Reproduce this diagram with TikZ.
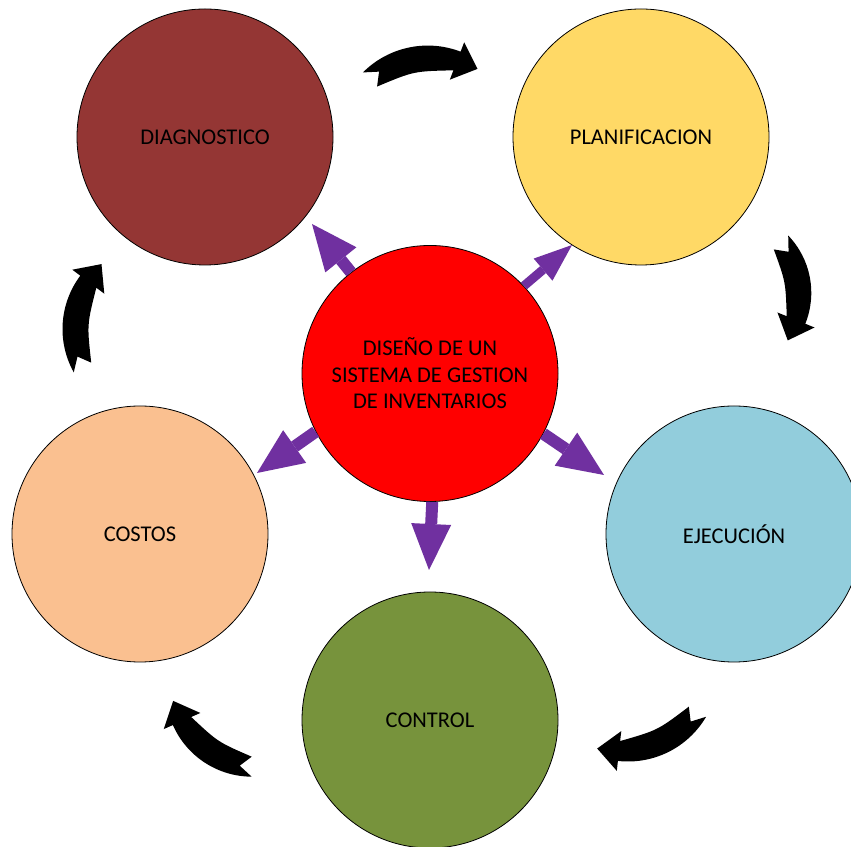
\documentclass[tikz,border=0pt]{standalone}
\usepackage{fontspec}
\setmainfont{Carlito}
\usetikzlibrary{arrows.meta}

\definecolor{diagcol}{HTML}{943634}
\definecolor{plancol}{HTML}{FFD966}
\definecolor{corecol}{HTML}{FF0000}
\definecolor{ejeccol}{HTML}{92CDDC}
\definecolor{ctrlcol}{HTML}{77933C}
\definecolor{costcol}{HTML}{FAC090}
\definecolor{spokecol}{HTML}{7030A0}

% geometry of the black curved arrows between the phases
\def\arcturn{66}     % turning angle of the band
\def\bandend{10}     % half thickness of the band at its ends
\def\bandmid{26}     % full thickness of the band in the middle
\def\headhalf{20}    % half width of the head
\def\headlen{22}     % length of the head
\def\notchdepth{12}  % depth of the swallow-tail notch

% \loopshaft{x0}{y0}{x1}{y1}: clockwise curved arrow, tail centre (x0,y0),
% centre of the head base (x1,y1), bulging away from the cycle centre
\newcommand{\loopshaft}[4]{%
  \pgfmathsetmacro{\ldx}{#3-#1}%
  \pgfmathsetmacro{\ldy}{#4-#2}%
  \pgfmathsetmacro{\llen}{veclen(\ldx,\ldy)}%
  \pgfmathsetmacro{\lang}{atan2(\ldy,\ldx)}%
  \pgfmathsetmacro{\lrad}{\llen/2/sin(\arcturn/2)}%
  \pgfmathsetmacro{\ldist}{\llen/2/tan(\arcturn/2)}%
  \pgfmathsetmacro{\lcx}{(#1+#3)/2+\ldist*cos(\lang-90)}%
  \pgfmathsetmacro{\lcy}{(#2+#4)/2+\ldist*sin(\lang-90)}%
  \pgfmathsetmacro{\lsa}{\lang+90+\arcturn/2}%
  \pgfmathsetmacro{\lea}{\lang+90-\arcturn/2}%
  \pgfmathsetmacro{\lma}{\lang+90}%
  \pgfmathsetmacro{\lna}{\lsa-\notchdepth/\lrad*180/pi}%
  \pgfmathsetmacro{\lout}{\lrad+\bandend}%
  \pgfmathsetmacro{\lin}{\lrad-\bandend}%
  \pgfmathsetmacro{\lbo}{\lrad+\headhalf}%
  \pgfmathsetmacro{\lbi}{\lrad-\headhalf}%
  \pgfmathsetmacro{\lctl}{(4*(\lrad+\bandend-\bandmid)-\lin*cos(\arcturn/2))/3}%
  \pgfmathsetmacro{\ltx}{\lrad*cos(\lea)+\headlen*cos(\lea-90)}%
  \pgfmathsetmacro{\lty}{\lrad*sin(\lea)+\headlen*sin(\lea-90)}%
  \fill[black,shift={(\lcx pt,\lcy pt)}]
    (\lsa:\lout pt) arc[start angle=\lsa, end angle=\lea, radius=\lout pt]
    -- (\lea:\lbo pt) -- (\ltx pt,\lty pt) -- (\lea:\lbi pt) -- (\lea:\lin pt)
    .. controls (\lma:\lctl pt) .. (\lsa:\lin pt)
    -- (\lna:\lrad pt) -- cycle;
}

\tikzset{
  phase/.style={circle, draw=black, line width=0.8pt, minimum size=256pt,
    inner sep=0pt, align=center, text=black,
    font=\fontsize{22.5}{26.5}\selectfont},
  spoke/.style={draw=spokecol, line width=12pt,
    -{Triangle[length=46pt, width=40pt, line width=0pt]}},
  thinspoke/.style={draw=spokecol, line width=9pt,
    -{Triangle[length=38pt, width=29pt, line width=0pt]}},
}

\begin{document}
\begin{tikzpicture}[x=1pt, y=1pt]
\clip (0,0) rectangle (851,846);
\fill[white] (0,0) rectangle (851,846);

% phases of the cycle
\node[phase, fill=diagcol] (diag) at (205,709) {DIAGNOSTICO};
\node[phase, fill=plancol] (plan) at (641,709) {PLANIFICACION};
\node[phase, fill=ejeccol] (ejec) at (734,312) {EJECUCIÓN};
\node[phase, fill=ctrlcol] (ctrl) at (430,126) {CONTROL};
\node[phase, fill=costcol] (cost) at (140,312) {COSTOS};
\node[phase, fill=corecol] (core) at (430,472.5)
  {DISEÑO DE UN\\SISTEMA DE GESTION\\DE INVENTARIOS};

% tips of the spokes
\coordinate (tdiag) at (312,622);
\coordinate (tplan) at (572,601);
\coordinate (tcost) at (257,373);
\coordinate (tctrl) at (429,276);
\coordinate (tejec) at (604,371);

% purple spokes from the core
\draw[spoke] (core.128) -- (tdiag);
\draw[thinspoke] (core.43) -- (tplan);
\draw[spoke] (core.207) -- (tcost);
\draw[spoke] (core.-89) -- (tctrl);
\draw[spoke] (core.-28.5) -- (tejec);

% black curved arrows around the cycle
\loopshaft{370}{766.5}{457}{785}
\loopshaft{781}{603.5}{796}{526}
\loopshaft{697.5}{134.3}{619}{95}
\loopshaft{251.7}{79.3}{182}{125}
\loopshaft{82.5}{478.5}{88.3}{564.3}
\end{tikzpicture}
\end{document}
